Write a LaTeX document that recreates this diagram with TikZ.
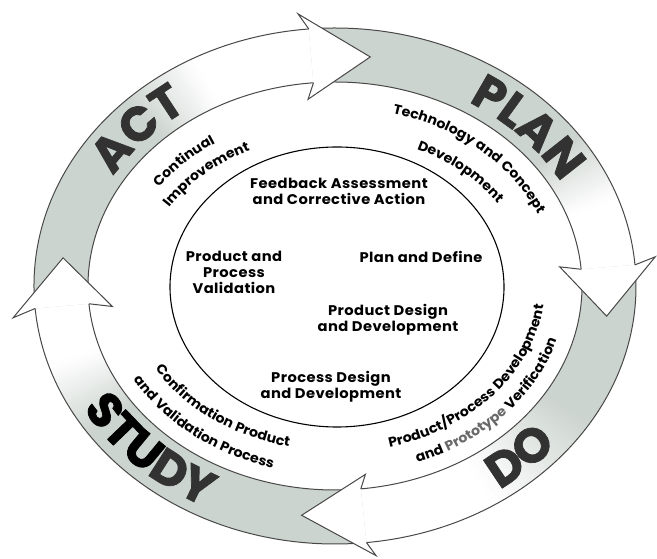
\documentclass[tikz,border=0pt]{standalone}
\usepackage{fontspec}
\usetikzlibrary{decorations.text}
\newfontfamily\innerfamily{Poppins}[FakeStretch=1.05, LetterSpace=3]
\newfontfamily\arcfamily{Poppins}[FakeStretch=1.05, LetterSpace=3]
\newfontfamily\heavyfamily{Poppins}[FakeBold=1.5, LetterSpace=4]
\newcommand\innerfont{\innerfamily\bfseries\fontsize{14}{16}\selectfont}
\newcommand\arcfont{\arcfamily\bfseries\fontsize{13.5}{15}\selectfont}
\newcommand\bigfont{\heavyfamily\bfseries\fontsize{48}{48}\selectfont}
\definecolor{bandgray}{RGB}{204,212,207}
\definecolor{edgegray}{RGB}{72,72,72}
\definecolor{labelgray}{RGB}{50,50,50}
\definecolor{protogray}{RGB}{105,105,105}

\tikzset{
  rim/.style={draw=edgegray, line width=1pt},
  innertext/.style={font=\innerfont, align=center, inner sep=0pt},
  alongpath/.style={decorate, decoration={text along path, text={#1}, text align=center}},
}

% slice of the ring between parametric angles #1 and #2, filled with #3
\newcommand\bandslice[3]{%
  \fill[#3] ({#1}:301 and 258) arc[start angle={#1}, end angle={#2}, x radius=301pt, y radius=258pt]
    -- ({#2}:247 and 204) arc[start angle={#2}, end angle={#1}, x radius=247pt, y radius=204pt] -- cycle;}

% ring arrow body: tail #1, solid gray down to #2, white from #3, head base #4
\newcommand\arrowbody[4]{%
  \bandslice{#1}{#2-0.3}{bandgray}
  \foreach \k in {0,...,23}{%
    \pgfmathsetmacro\ua{#2+(#3-#2)*\k/24}
    \pgfmathsetmacro\ub{#2+(#3-#2)*(\k+1)/24-0.3}
    \pgfmathtruncatemacro\pc{100-100*(\k+0.5)/24}
    \bandslice{\ua}{\ub}{bandgray!\pc!white}
  }
  \draw[rim] ({#1}:301 and 258) arc[start angle={#1}, end angle={#4}, x radius=301pt, y radius=258pt];
  \draw[rim] ({#1}:247 and 204) arc[start angle={#1}, end angle={#4}, x radius=247pt, y radius=204pt];
}

% arrow head: base #1, barb angle #2, tip #3, barb reach #4
\newcommand\arrowhead[4]{%
  \fill[white] ({#1}:301 and 258) -- ({#2}:{274+#4} and {231+#4}) -- ({#3}:274 and 231)
    -- ({#2}:{274-#4} and {231-#4}) -- ({#1}:247 and 204) -- cycle;
  \draw[rim, line join=miter] ({#1}:301 and 258) -- ({#2}:{274+#4} and {231+#4}) -- ({#3}:274 and 231)
    -- ({#2}:{274-#4} and {231-#4}) -- ({#1}:247 and 204);
}

\begin{document}
\begin{tikzpicture}[x=1pt,y=1pt]
\path[use as bounding box, fill=white] (0,0) rectangle (657,559);

\begin{scope}[shift={(335,273)}]
  % the four ring arrows, clockwise
  \arrowbody{185}{134}{118}{95}
  \arrowbody{95}{36}{20}{4.7}
  \arrowbody{4.7}{-32}{-58}{-84}
  \arrowbody{276}{215}{198}{185}
  \arrowhead{95}{96.7}{82.6}{43}
  \arrowhead{4.7}{6}{-7.5}{48}
  \arrowhead{-84}{-82.5}{-97}{41}
  \arrowhead{185}{186.5}{173}{50}

  % phase names on the ring
  \path[alongpath={|\bigfont\color{labelgray}|ACT}]
    (179:258 and 215) arc[start angle=179, end angle=99, x radius=258pt, y radius=215pt];
  \path[alongpath={|\bigfont\color{labelgray}|PLAN}]
    (82:258 and 215) arc[start angle=82, end angle=2, x radius=258pt, y radius=215pt];
  \path[alongpath={|\bigfont\color{labelgray}|DO}]
    (-86:290 and 247) arc[start angle=-86, end angle=-6, x radius=290pt, y radius=247pt];
  \path[alongpath={|\bigfont\color{black}|STU|\bigfont\color{labelgray}|DY}]
    (185:290 and 247) arc[start angle=185, end angle=265, x radius=290pt, y radius=247pt];

  % curved captions inside the ring
  \path[alongpath={|\arcfont|Continual}]
    (176.8:215 and 172) arc[start angle=176.8, end angle=96.8, x radius=215pt, y radius=172pt];
  \path[alongpath={|\arcfont|Improvement}]
    (174.7:194 and 151) arc[start angle=174.7, end angle=94.7, x radius=194pt, y radius=151pt];
  \path[alongpath={|\arcfont|Technology and Concept}]
    (96.8:222 and 179) arc[start angle=96.8, end angle=-3.2, x radius=222pt, y radius=179pt];
  \path[alongpath={|\arcfont|Development}]
    (86.7:194 and 151) arc[start angle=86.7, end angle=6.7, x radius=194pt, y radius=151pt];
  \path[alongpath={|\arcfont|Confirmation Product}]
    (181:208 and 165) arc[start angle=181, end angle=281, x radius=208pt, y radius=165pt];
  \path[alongpath={|\arcfont|and Validation Process}]
    (179.6:232 and 189) arc[start angle=179.6, end angle=279.6, x radius=232pt, y radius=189pt];
  \path[alongpath={|\arcfont|Product/Process Development}]
    (-98:210 and 167) arc[start angle=-98, end angle=22, x radius=210pt, y radius=167pt];
  \path[alongpath={|\arcfont|and |\arcfont\color{protogray}|Prototype |\arcfont|Verification}]
    (-99.7:232 and 189) arc[start angle=-99.7, end angle=20.3, x radius=232pt, y radius=189pt];
\end{scope}

% central ellipse and its stages
\draw[line width=1.1pt] (337,272) ellipse [x radius=167pt, y radius=140pt];
\node[innertext] (feedback) at (339,368) {Feedback Assessment\\and Corrective Action};
\node[innertext] (validation) at (234,287) {Product and\\Process\\Validation};
\node[innertext] (plan) at (421,302) {Plan and Define};
\node[innertext] (productdesign) at (388,239) {Product Design\\and Development};
\node[innertext] (processdesign) at (331,172) {Process Design\\and Development};
\end{tikzpicture}
\end{document}
